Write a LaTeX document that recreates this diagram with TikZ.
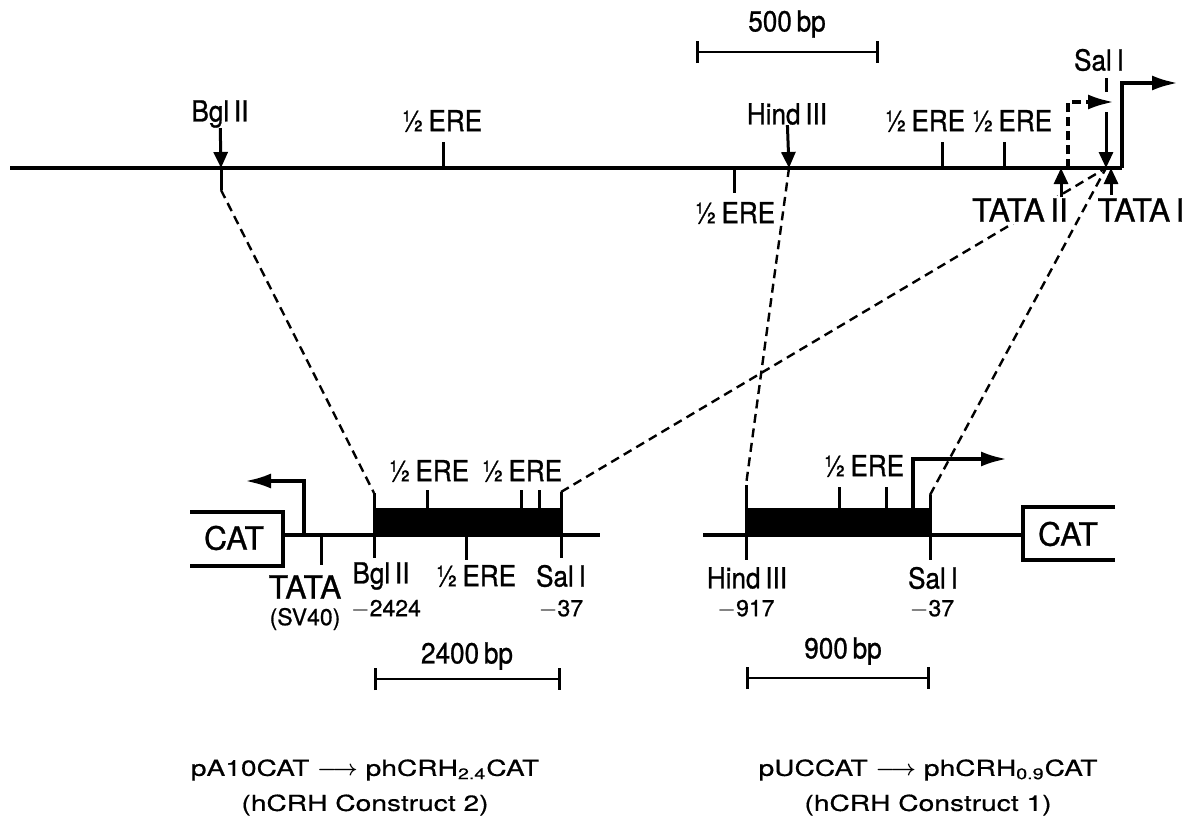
\documentclass[tikz,border=0pt]{standalone}
\usepackage{amsmath}
\usepackage{fontspec}
\setmainfont[FakeBold=0.8]{TeX Gyre Heros}
\newfontfamily\sitefont[FakeStretch=0.9,FakeBold=0.9]{TeX Gyre Heros}
\newfontfamily\capfont[FakeStretch=1.28,FakeBold=0.5]{TeX Gyre Heros}
\usetikzlibrary{positioning,arrows.meta}

\begin{document}
\begin{tikzpicture}[
  x=0.5pt,y=-0.5pt,
  dna/.style={line width=1.9pt},
  tickline/.style={line width=1.5pt},
  cut/.style={line width=1.5pt,-{Triangle[length=8pt,width=7pt]}},
  tss/.style={line width=1.9pt,-{Latex[length=13pt,width=7.5pt]}},
  link/.style={line width=1.2pt,dash pattern=on 4.5pt off 2.8pt},
  scalebar/.style={line width=1.3pt,{Bar[width=11pt]}-{Bar[width=11pt]}},
  site/.style={font=\sitefont\fontsize{14.5}{16}\selectfont,inner sep=0pt},
  tata/.style={font=\fontsize{16}{18}\selectfont,inner sep=1pt},
  num/.style={font=\fontsize{11.5}{13}\selectfont,inner sep=0pt},
  cat/.style={font=\fontsize{16}{18}\selectfont},
  caption/.style={font=\capfont\fontsize{11}{13}\selectfont}]

  \useasboundingbox (0,0) rectangle (1182,820);

  % genomic map
  \coordinate (gl) at (10,168);
  \coordinate (gr) at (1122,168);
  \coordinate (bgl) at (221,168);
  \coordinate (bglb) at (221,190);
  \coordinate (hind) at (789,168);
  \coordinate (sal) at (1106,168);
  \coordinate (saltop) at (1106,78);
  \coordinate (salmid) at (1106,92);
  \coordinate (salarr) at (1106,112);

  \draw[dna] (gl) -- (gr);
  \draw[tss] (gr) -- (1122,83) -- (1178,83);
  \draw[tss,dash pattern=on 4.5pt off 2.5pt] (1068,168) -- (1068,102) -- (1114,102);

  \node[site] (bgltxt) at (220,114) {Bgl\,II};
  \draw[cut] (bgltxt) -- (bgl);
  \node[site] (hindtxt) at (787,114) {Hind\,III};
  \draw[cut] (hindtxt) -- (hind);
  \node[site] (saltxt) at (1099,60) {Sal\,I};
  \draw[tickline] (saltop) -- (salmid);
  \draw[cut] (salarr) -- (sal);

  \foreach \t/\l [count=\i] in {443/442,942/925,1004/1012}{
    \draw[tickline] (\t,142) -- (\t,168);
    \node[site] (ere\i) at (\l,121) {½\,ERE};
  }
  \draw[tickline] (734,168) -- (734,193);
  \node[site] (ere4) at (735,213) {½\,ERE};

  \node[site] (bartxt) at (787,24) {500\,bp};
  \draw[scalebar] (696,52) -- (879,52);

  % construct 2 (left)
  \coordinate (c2bgl) at (374,493);
  \coordinate (c2sal) at (561,492);
  \draw[dna] (190,512) -| (283,566) -- (190,566);
  \node[cat] (cat2) at (234,538) {CAT};
  \draw[dna] (283,535) -- (600,535);
  \fill (374,508) rectangle (561,535);
  \draw[tss] (304,535) -- (304,481) -- (245,481);
  \draw[tickline] (321,535) -- (321,565);
  \draw[tickline] (c2bgl) -- (374,558);
  \draw[tickline] (c2sal) -- (561,558);
  \foreach \t in {427,521,539}
    \draw[tickline] (\t,490) -- (\t,508);
  \draw[tickline] (466,535) -- (466,560);
  \node[site] (ere5) at (429,471) {½\,ERE};
  \node[site] (ere6) at (522,471) {½\,ERE};
  \node[site] (ere7) at (476,576) {½\,ERE};
  \node[tata] (tata3) at (305,587) {TATA};
  \node[num] (sv40) at (305,619) {(SV40)};
  \node[site] (bgl2) at (381,576) {Bgl\,II};
  \node[num] (pos1) at (386,609) {$-$2424};
  \node[site] (sal2) at (561,576) {Sal\,I};
  \node[num] (pos2) at (561,609) {$-$37};
  \node[site] (bar2) at (467,656) {2400\,bp};
  \draw[scalebar] (374,679) -- (561,679);

  % construct 1 (right)
  \coordinate (c1hind) at (746,485);
  \coordinate (c1sal) at (930,495);
  \draw[dna] (703,535) -- (1023,535);
  \fill (746,508) rectangle (932,535);
  \draw[tickline] (c1hind) -- (746,560);
  \draw[tickline] (c1sal) -- (930,560);
  \foreach \t in {839,886}
    \draw[tickline] (\t,487) -- (\t,508);
  \node[site] (ere8) at (864,466) {½\,ERE};
  \draw[tss] (913,508) -- (913,459) -- (1007,459);
  \draw[dna] (1115,507) -| (1023,560) -- (1115,560);
  \node[cat] (cat1) at (1068,534) {CAT};
  \node[site] (hind1) at (747,578) {Hind\,III};
  \node[num] (pos3) at (746,609) {$-$917};
  \node[site] (sal1) at (933,578) {Sal\,I};
  \node[num] (pos4) at (932,609) {$-$37};
  \node[site] (bar1) at (843,651) {900\,bp};
  \draw[scalebar] (746,678) -- (930,678);

  % dashed links between map and constructs
  \draw[tickline] (bgl) -- (bglb);
  \draw[link] (bglb) -- (c2bgl);
  \draw[link] (hind) -- (c1hind);
  \draw[link] (c2sal) -- (sal);
  \draw[link] (c1sal) -- (sal);

  % TATA boxes on the map
  \node[tata,fill=white] (tata2) at (1020,210) {TATA\,II};
  \node[tata] (tata1) at (1141,210) {TATA\,I};
  \draw[cut] (1061,197) -- (1061,168);
  \draw[cut] (1111,195) -- (1111,168);

  % captions
  \node[caption] (name2) at (365,770) {pA10CAT \ensuremath{\boldsymbol{\longrightarrow}} phCRH\textsubscript{2.4}CAT};
  \node[caption] (desc2) at (365,805) {(hCRH Construct 2)};
  \node[caption] (name1) at (928,770) {pUCCAT \ensuremath{\boldsymbol{\longrightarrow}} phCRH\textsubscript{0.9}CAT};
  \node[caption] (desc1) at (928,805) {(hCRH Construct 1)};
\end{tikzpicture}
\end{document}
